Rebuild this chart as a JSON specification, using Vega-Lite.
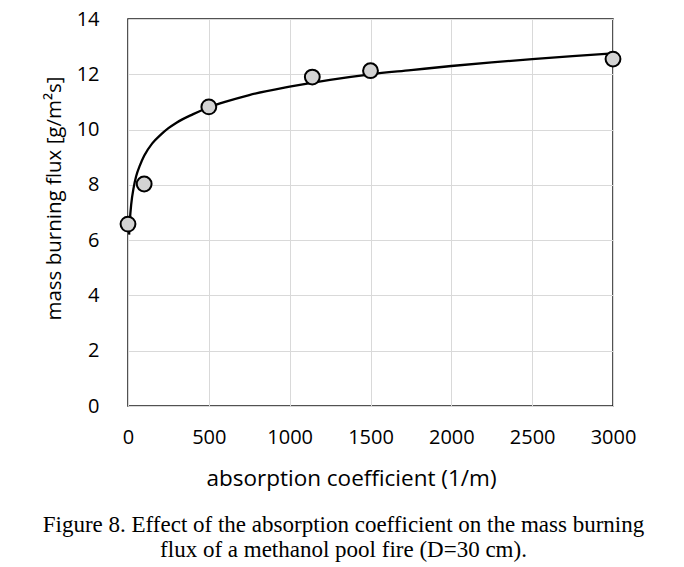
{
  "$schema": "https://vega.github.io/schema/vega-lite/v6.json",
  "autosize": "none",
  "padding": {"left": 128, "top": 19, "right": 71, "bottom": 161},
  "width": 485,
  "height": 387,
  "background": "white",
  "config": {
    "view": {"stroke": "#1a1a1a", "strokeWidth": 1.5},
    "font": "Open Sans"
  },
  "title": {
    "text": ["Figure 8. Effect of the absorption coefficient on the mass burning", "flux of a methanol pool fire (D=30 cm)."],
    "orient": "bottom",
    "anchor": "middle",
    "frame": "group",
    "dx": -27,
    "offset": 24,
    "font": "Liberation Serif",
    "fontSize": 23,
    "fontWeight": "normal",
    "color": "#000",
    "lineHeight": 25
  },
  "datasets": {
    "points": [
      {"k": 0, "flux": 6.58},
      {"k": 100, "flux": 8.03},
      {"k": 500, "flux": 10.82},
      {"k": 1140, "flux": 11.9},
      {"k": 1500, "flux": 12.13},
      {"k": 3000, "flux": 12.55}
    ],
    "fit": [
      {"k": 7, "flux": 6.2},
      {"k": 12, "flux": 6.75},
      {"k": 20, "flux": 7.3},
      {"k": 35, "flux": 7.9},
      {"k": 50, "flux": 8.3},
      {"k": 75, "flux": 8.72},
      {"k": 100, "flux": 9.05},
      {"k": 150, "flux": 9.5},
      {"k": 200, "flux": 9.8},
      {"k": 250, "flux": 10.05},
      {"k": 300, "flux": 10.25},
      {"k": 400, "flux": 10.55},
      {"k": 500, "flux": 10.8},
      {"k": 600, "flux": 11.0},
      {"k": 750, "flux": 11.25},
      {"k": 1000, "flux": 11.55},
      {"k": 1250, "flux": 11.8},
      {"k": 1500, "flux": 12.0},
      {"k": 1750, "flux": 12.15},
      {"k": 2000, "flux": 12.3},
      {"k": 2250, "flux": 12.43},
      {"k": 2500, "flux": 12.55},
      {"k": 2750, "flux": 12.66},
      {"k": 3000, "flux": 12.76}
    ]
  },
  "encoding": {
    "x": {
      "field": "k",
      "type": "quantitative",
      "scale": {"domain": [0, 3000], "nice": false},
      "axis": {
        "title": "absorption coefficient (1/m)",
        "values": [0, 500, 1000, 1500, 2000, 2500, 3000],
        "format": "d",
        "labelFlush": false,
        "grid": true,
        "gridColor": "#d9d9d9",
        "gridWidth": 1,
        "domain": false,
        "ticks": false,
        "labelPadding": 21,
        "labelFontSize": 20,
        "labelColor": "#000",
        "labelFont": "Open Sans",
        "titleFont": "Open Sans",
        "titleFontSize": 22.5,
        "titleFontWeight": "normal",
        "titleColor": "#000",
        "titlePadding": 20,
        "titleX": 223
      }
    },
    "y": {
      "field": "flux",
      "type": "quantitative",
      "scale": {"domain": [0, 14], "nice": false},
      "axis": {
        "title": "mass burning flux [g/m²s]",
        "values": [0, 2, 4, 6, 8, 10, 12, 14],
        "format": "d",
        "labelFlush": false,
        "grid": true,
        "gridColor": "#d9d9d9",
        "gridWidth": 1,
        "domain": false,
        "ticks": false,
        "labelPadding": 29,
        "labelFontSize": 20,
        "labelColor": "#000",
        "labelFont": "Open Sans",
        "titleFont": "Open Sans",
        "titleFontSize": 20.5,
        "titleFontWeight": "normal",
        "titleColor": "#000",
        "titlePadding": 12,
        "titleY": 179
      }
    }
  },
  "layer": [
    {
      "data": {"name": "fit"},
      "mark": {"type": "line", "color": "#000", "strokeWidth": 2.3, "interpolate": "monotone", "clip": false}
    },
    {
      "data": {"name": "points"},
      "mark": {"type": "point", "shape": "circle", "filled": true, "fill": "#d3d3d3", "stroke": "#000", "strokeWidth": 2, "size": 220, "opacity": 1, "clip": false}
    }
  ]
}
